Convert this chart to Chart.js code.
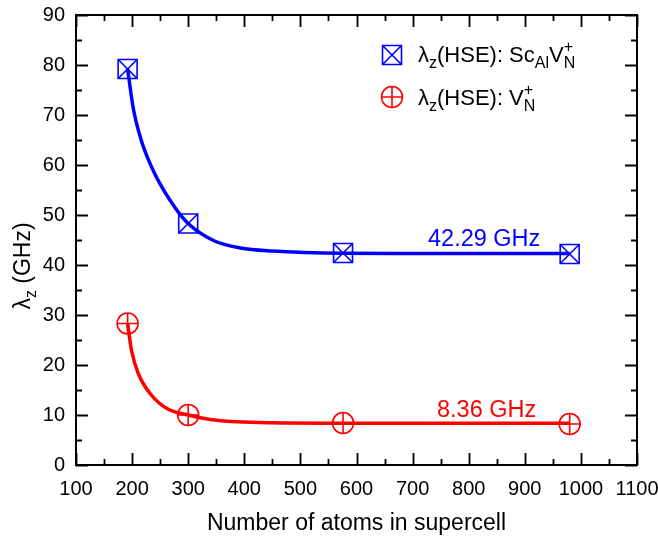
<!DOCTYPE html>
<html>
<head>
<meta charset="utf-8">
<script src="https://cdn.jsdelivr.net/npm/chart.js@4/dist/chart.umd.min.js"></script>
<style>
  html, body { margin: 0; padding: 0; background: #fff; }
  #wrap { width: 658px; height: 542px; }
</style>
</head>
<body>
<div id="wrap"><canvas id="c" width="658" height="542"></canvas></div>
<script>
// ---- data ----
const xTickLabels = [100, 200, 300, 400, 500, 600, 700, 800, 900, 1000, 1100];
const yTickLabels = [0, 10, 20, 30, 40, 50, 60, 70, 80, 90];
const atoms = [192, 300, 576, 980];
const lambdaScAlVN = [79.2, 48.3, 42.4, 42.2];
const lambdaVN = [28.3, 10.0, 8.4, 8.2];
// fitted curves
const fitBlueX = [192, 202, 217, 241, 277, 300, 345, 393, 450, 576, 700, 980];
const fitBlueY = [79.2, 71.4, 64.7, 58.1, 51.4, 48.3, 44.9, 43.4, 42.8, 42.35, 42.3, 42.29];
const fitRedX = [192, 199, 211, 232, 262, 300, 339, 387, 450, 576, 700, 980];
const fitRedY = [28.3, 22.9, 18.3, 14.3, 11.3, 10.0, 9.1, 8.65, 8.45, 8.37, 8.36, 8.36];
const annBlue = '42.29 GHz';
const annRed = '8.36 GHz';

const BLUE = '#0000ff';
const RED = '#ff0000';
const FONT = '"Liberation Sans", Arial, sans-serif';

const pts = (xs, ys) => xs.map((x, i) => ({ x: x, y: ys[i] }));

const framePlugin = {
  id: 'frame',
  afterDraw(chart) {
    const ctx = chart.ctx;
    const a = chart.chartArea;
    const xs = chart.scales.x, ys = chart.scales.y;
    ctx.save();
    ctx.strokeStyle = '#000';
    ctx.lineWidth = 2;
    ctx.strokeRect(a.left, a.top, a.right - a.left, a.bottom - a.top);
    ctx.lineWidth = 1.8;
    ctx.beginPath();
    for (let v = xs.min; v <= xs.max + 1e-6; v += 50) {
      const p = Math.round(xs.getPixelForValue(v)) + 0.5;
      const len = (Math.round(v) % 100 === 0) ? 12 : 6;
      ctx.moveTo(p, a.bottom); ctx.lineTo(p, a.bottom - len);
      ctx.moveTo(p, a.top); ctx.lineTo(p, a.top + len);
    }
    for (let v = ys.min; v <= ys.max + 1e-6; v += 5) {
      const p = Math.round(ys.getPixelForValue(v)) + 0.5;
      const len = (Math.round(v) % 10 === 0) ? 12 : 6;
      ctx.moveTo(a.left, p); ctx.lineTo(a.left + len, p);
      ctx.moveTo(a.right, p); ctx.lineTo(a.right - len, p);
    }
    ctx.stroke();

    // axis titles
    ctx.fillStyle = '#000';
    ctx.font = '23px ' + FONT;
    ctx.textAlign = 'center';
    ctx.textBaseline = 'alphabetic';
    ctx.fillText('Number of atoms in supercell', (a.left + a.right) / 2, 530);

    // y title: λz (GHz)
    ctx.save();
    ctx.translate(30, 266);
    ctx.rotate(-Math.PI / 2);
    ctx.textAlign = 'left';
    const big = '23px ' + FONT, small = '16px ' + FONT;
    ctx.font = big; const w1 = ctx.measureText('λ').width;
    ctx.font = small; const w2 = ctx.measureText('z').width;
    ctx.font = big; const w3 = ctx.measureText(' (GHz)').width;
    let x0 = -(w1 + w2 + w3) / 2;
    ctx.font = big; ctx.fillText('λ', x0, 0); x0 += w1;
    ctx.font = small; ctx.fillText('z', x0, 6); x0 += w2;
    ctx.font = big; ctx.fillText(' (GHz)', x0, 0);
    ctx.restore();

    // annotations
    ctx.font = '23.5px ' + FONT;
    ctx.textAlign = 'left';
    ctx.fillStyle = BLUE;
    ctx.fillText(annBlue, 428, 246);
    ctx.fillStyle = RED;
    ctx.fillText(annRed, 437, 417);

    // legend
    const drawBox = (cx, cy) => {
      ctx.save(); ctx.strokeStyle = BLUE; ctx.lineWidth = 1.6;
      ctx.beginPath(); ctx.rect(cx - 9.5, cy - 9.5, 19, 19);
      ctx.moveTo(cx - 9.5, cy - 9.5); ctx.lineTo(cx + 9.5, cy + 9.5);
      ctx.moveTo(cx + 9.5, cy - 9.5); ctx.lineTo(cx - 9.5, cy + 9.5);
      ctx.stroke(); ctx.restore();
    };
    const drawCirc = (cx, cy) => {
      ctx.save(); ctx.strokeStyle = RED; ctx.lineWidth = 1.6;
      ctx.beginPath(); ctx.arc(cx, cy, 10.5, 0, Math.PI * 2);
      ctx.moveTo(cx - 10.5, cy); ctx.lineTo(cx + 10.5, cy);
      ctx.moveTo(cx, cy - 10.5); ctx.lineTo(cx, cy + 10.5);
      ctx.stroke(); ctx.restore();
    };
    drawBox(392, 55);
    drawCirc(392, 97);
    const seg = (parts, x, base, color) => {
      ctx.fillStyle = color;
      for (const p of parts) {
        ctx.font = (p.s ? '16px ' : '22px ') + FONT;
        if (p.stack) {
          const wa = ctx.measureText(p.sup).width, wb = ctx.measureText(p.sub).width;
          ctx.fillText(p.sup, x, base - 10);
          ctx.fillText(p.sub, x, base + 6);
          x += Math.max(wa, wb);
        } else {
          ctx.fillText(p.t, x, base + (p.s ? 6 : 0));
          x += ctx.measureText(p.t).width;
        }
      }
    };
    seg([{ t: 'λ' }, { t: 'z', s: 1 }, { t: '(HSE): Sc' }, { t: 'Al', s: 1 }, { t: 'V' },
         { stack: 1, s: 1, sup: '+', sub: 'N' }], 418, 62, '#000');
    seg([{ t: 'λ' }, { t: 'z', s: 1 }, { t: '(HSE): V' },
         { stack: 1, s: 1, sup: '+', sub: 'N' }], 418, 105, '#000');
    ctx.restore();
  }
};

new Chart(document.getElementById('c'), {
  type: 'line',
  data: {
    datasets: [
      { data: pts(fitBlueX, fitBlueY), borderColor: BLUE, borderWidth: 3.5, pointRadius: 0, cubicInterpolationMode: 'monotone', fill: false },
      { data: pts(fitRedX, fitRedY), borderColor: RED, borderWidth: 3.5, pointRadius: 0, cubicInterpolationMode: 'monotone', fill: false },
      { data: pts(atoms, lambdaScAlVN), showLine: false, pointStyle: 'rect', pointRadius: 13.4, borderColor: BLUE, backgroundColor: 'rgba(0,0,0,0)', pointBorderWidth: 1.6, clip: false },
      { data: pts(atoms, lambdaScAlVN), showLine: false, pointStyle: 'crossRot', pointRadius: 13.4, borderColor: BLUE, pointBorderWidth: 1.6, clip: false },
      { data: pts(atoms, lambdaVN), showLine: false, pointStyle: 'circle', pointRadius: 10.5, borderColor: RED, backgroundColor: 'rgba(0,0,0,0)', pointBorderWidth: 1.6, clip: false },
      { data: pts(atoms, lambdaVN), showLine: false, pointStyle: 'cross', pointRadius: 10.5, borderColor: RED, pointBorderWidth: 1.6, clip: false }
    ]
  },
  options: {
    responsive: false,
    animation: false,
    events: [],
    layout: { padding: { left: 0, top: 13, right: 21, bottom: 0 } },
    plugins: { legend: { display: false }, tooltip: { enabled: false } },
    scales: {
      x: {
        type: 'linear', min: 100, max: 1100,
        afterBuildTicks: s => { s.ticks = xTickLabels.map(v => ({ value: v })); },
        ticks: { font: { size: 20, family: FONT }, color: '#000', padding: 12, maxRotation: 0, autoSkip: false,
                 callback: v => String(v) },
        grid: { display: false, drawTicks: false }, border: { display: false },
        afterFit: s => { s.height = 77; s.paddingLeft = 0; s.paddingRight = 0; }
      },
      y: {
        min: 0, max: 90,
        afterBuildTicks: s => { s.ticks = yTickLabels.map(v => ({ value: v })); },
        ticks: { font: { size: 20, family: FONT }, color: '#000', padding: 11, callback: v => String(v) },
        grid: { display: false, drawTicks: false }, border: { display: false },
        afterFit: s => { s.width = 76; s.paddingTop = 0; s.paddingBottom = 0; }
      }
    }
  },
  plugins: [framePlugin]
});
</script>
</body>
</html>
